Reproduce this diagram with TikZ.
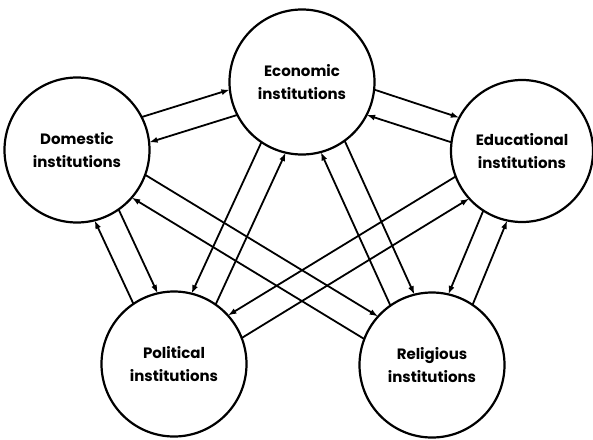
\documentclass[tikz,border=0pt]{standalone}
\usepackage{fontspec}
\setmainfont{Poppins}
\usetikzlibrary{arrows.meta}
\begin{document}
\begin{tikzpicture}[x=1pt,y=-1pt,
  inst/.style={circle, draw, line width=2.2pt, minimum size=145pt, inner sep=0pt, outer sep=0pt,
    align=center, font=\bfseries\fontsize{15}{23}\selectfont},
  link/.style={line width=1.8pt, -{Latex[length=8.5pt,width=6pt]}}]
\useasboundingbox (0,0) rectangle (593,439);
\node[inst] (dom) at (77,150) {Domestic\\institutions};
\node[inst] (eco) at (302,82) {Economic\\institutions};
\node[inst, minimum size=142pt] (edu) at (522,151) {Educational\\institutions};
\node[inst] (pol) at (174,364) {Political\\institutions};
\node[inst] (rel) at (432,365) {Religious\\institutions};
% Domestic - Economic
\draw[link] (dom.27.3) -- (eco.186.3);
\draw[link] (eco.207.3) -- (dom.6.3);
% Economic - Educational
\draw[link] (eco.-6.9) -- (edu.152.1);
\draw[link] (edu.173.1) -- (eco.-27.9);
% Domestic - Political
\draw[link] (dom.-55.1) -- (pol.103.9);
\draw[link] (pol.124.9) -- (dom.-76.1);
% Educational - Religious
\draw[link] (rel.56.7) -- (edu.-102.3);
\draw[link] (edu.-123.3) -- (rel.77.7);
% Economic - Political
\draw[link] (pol.55.1) -- (eco.-103.9);
\draw[link] (eco.-124.9) -- (pol.76.1);
% Economic - Religious
\draw[link] (eco.-54.8) -- (rel.104.2);
\draw[link] (rel.125.2) -- (eco.-75.8);
% Educational - Political
\draw[link] (pol.21) -- (edu.-138);
\draw[link] (edu.-159) -- (pol.42);
% Domestic - Religious
\draw[link] (dom.-20.7) -- (rel.138.3);
\draw[link] (rel.159.3) -- (dom.-41.7);
\end{tikzpicture}
\end{document}
